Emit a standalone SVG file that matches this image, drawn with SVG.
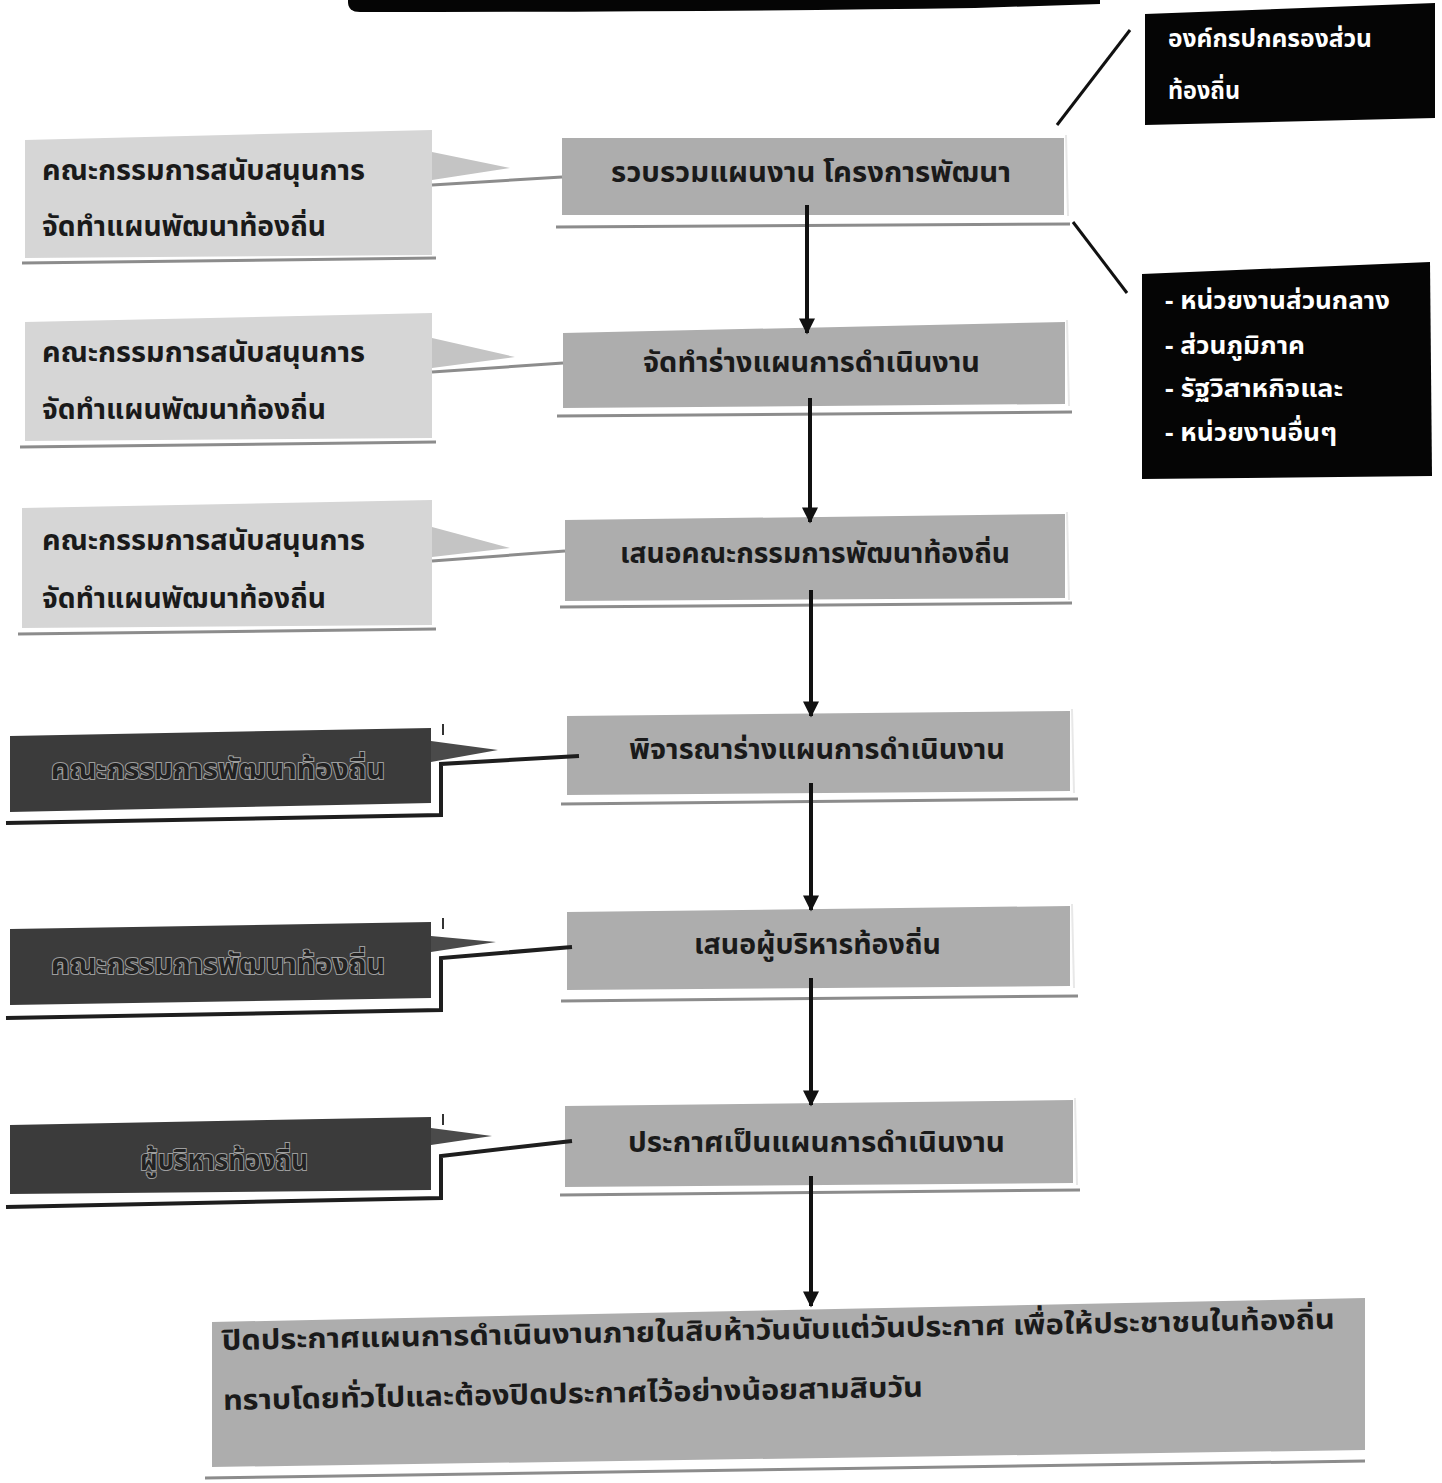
<svg xmlns="http://www.w3.org/2000/svg" width="1442" height="1483" viewBox="0 0 1442 1483">
<defs>
<style>
.t{font-family:"Noto Sans Thai","Noto Sans","DejaVu Sans","Liberation Sans",sans-serif;font-weight:bold;font-size:28px;fill:#1a1a1a}
.tw{font-family:"Noto Sans Thai","Noto Sans","DejaVu Sans","Liberation Sans",sans-serif;font-weight:bold;font-size:25px;fill:#ffffff}
.td{font-family:"Noto Sans Thai","Noto Sans","DejaVu Sans","Liberation Sans",sans-serif;font-weight:bold;font-size:28px;fill:#222222;stroke:#9e9e9e;stroke-width:2px;paint-order:stroke}
.gbox{fill:#adadad}
.lbox{fill:#d6d6d6}
.dbox{fill:#3b3b3b}
.blk{fill:#050505}
.sh{stroke:#8c8c8c;stroke-width:3;fill:none}
.shd{stroke:#1e1e1e;stroke-width:4;fill:none}
.ptr{fill:#c4c4c4}
.ptrd{fill:#4a4a4a}
.edge{stroke:#e8e8e8;stroke-width:2;fill:none}
.ln{stroke:#111;stroke-width:3;fill:none}
.ar{stroke:#111;stroke-width:4;fill:none;marker-end:url(#ah)}
</style>
<marker id="ah" viewBox="0 0 10 10" refX="9" refY="5" markerWidth="4.5" markerHeight="4" orient="auto" markerUnits="strokeWidth">
<path d="M0,0 L10,5 L0,10 Z" fill="#111"/>
</marker>
</defs>
<rect width="1442" height="1483" fill="#ffffff"/>

<!-- top partial bar -->
<g id="top-bar">
<path d="M348,0 L1100,0 L1100,4 L975,8 Q700,12 360,12 Q348,12 348,2 Z" class="blk"/>
</g>

<!-- right black boxes -->
<g id="org-local">
<polygon points="1145,14 1435,3 1435,118 1145,125" class="blk"/>
<text class="tw" x="1168" y="47" textLength="204" lengthAdjust="spacingAndGlyphs">องค์กรปกครองส่วน</text>
<text class="tw" x="1168" y="99" textLength="72" lengthAdjust="spacingAndGlyphs">ท้องถิ่น</text>
</g>
<g id="agencies">
<polygon points="1142,274 1430,262 1432,476 1142,479" class="blk"/>
<text class="tw" x="1165" y="309" textLength="225" lengthAdjust="spacingAndGlyphs">- หน่วยงานส่วนกลาง</text>
<text class="tw" x="1165" y="354" textLength="140" lengthAdjust="spacingAndGlyphs">- ส่วนภูมิภาค</text>
<text class="tw" x="1165" y="397" textLength="178" lengthAdjust="spacingAndGlyphs">- รัฐวิสาหกิจและ</text>
<text class="tw" x="1165" y="441" textLength="172" lengthAdjust="spacingAndGlyphs">- หน่วยงานอื่นๆ</text>
</g>

<!-- center process boxes -->
<g id="step1">
<rect x="562" y="138" width="502" height="77" class="gbox"/>
<line x1="1066" y1="135" x2="1068" y2="216" class="edge"/>
<line x1="556" y1="227" x2="1070" y2="224" class="sh"/>
<text class="t" x="611" y="182" textLength="400" lengthAdjust="spacingAndGlyphs">รวบรวมแผนงาน  โครงการพัฒนา</text>
</g>
<g id="step2">
<polygon points="563,333 1065,322 1065,404 563,408" class="gbox"/>
<line x1="1067" y1="320" x2="1069" y2="406" class="edge"/>
<line x1="557" y1="416" x2="1072" y2="412" class="sh"/>
<text class="t" x="643" y="372" textLength="337" lengthAdjust="spacingAndGlyphs">จัดทำร่างแผนการดำเนินงาน</text>
</g>
<g id="step3">
<polygon points="565,520 1065,514 1065,598 565,601" class="gbox"/>
<line x1="1067" y1="512" x2="1069" y2="600" class="edge"/>
<line x1="560" y1="607" x2="1072" y2="603" class="sh"/>
<text class="t" x="620" y="563" textLength="390" lengthAdjust="spacingAndGlyphs">เสนอคณะกรรมการพัฒนาท้องถิ่น</text>
</g>
<g id="step4">
<polygon points="567,716 1070,711 1070,791 567,795" class="gbox"/>
<line x1="1072" y1="709" x2="1074" y2="793" class="edge"/>
<line x1="561" y1="804" x2="1078" y2="799" class="sh"/>
<text class="t" x="629" y="759" textLength="376" lengthAdjust="spacingAndGlyphs">พิจารณาร่างแผนการดำเนินงาน</text>
</g>
<g id="step5">
<polygon points="567,912 1070,906 1070,986 567,990" class="gbox"/>
<line x1="1072" y1="904" x2="1074" y2="988" class="edge"/>
<line x1="561" y1="1001" x2="1078" y2="996" class="sh"/>
<text class="t" x="694" y="954" textLength="247" lengthAdjust="spacingAndGlyphs">เสนอผู้บริหารท้องถิ่น</text>
</g>
<g id="step6">
<polygon points="565,1106 1073,1100 1073,1183 565,1187" class="gbox"/>
<line x1="1075" y1="1098" x2="1077" y2="1185" class="edge"/>
<line x1="560" y1="1195" x2="1080" y2="1190" class="sh"/>
<text class="t" x="628" y="1152" textLength="377" lengthAdjust="spacingAndGlyphs">ประกาศเป็นแผนการดำเนินงาน</text>
</g>
<g id="step7">
<polygon points="212,1322 1365,1298 1365,1450 212,1467" class="gbox"/>
<line x1="205" y1="1478" x2="1365" y2="1461" class="sh"/>
<g transform="rotate(-1.1 222 1350)">
<text class="t" x="222" y="1350" textLength="1113" lengthAdjust="spacingAndGlyphs">ปิดประกาศแผนการดำเนินงานภายในสิบห้าวันนับแต่วันประกาศ เพื่อให้ประชาชนในท้องถิ่น</text>
<text class="t" x="222" y="1410" textLength="700" lengthAdjust="spacingAndGlyphs">ทราบโดยทั่วไปและต้องปิดประกาศไว้อย่างน้อยสามสิบวัน</text>
</g>
</g>

<!-- left light callouts -->
<g id="support1">
<polygon points="25,140 432,130 432,255 25,258" class="lbox"/>
<polygon points="432,152 510,168 432,180" class="ptr"/>
<line x1="432" y1="185" x2="562" y2="177" class="sh"/>
<line x1="22" y1="263" x2="436" y2="258" class="sh"/>
<text class="t" x="42" y="180" textLength="323" lengthAdjust="spacingAndGlyphs">คณะกรรมการสนับสนุนการ</text>
<text class="t" x="42" y="236" textLength="284" lengthAdjust="spacingAndGlyphs">จัดทำแผนพัฒนาท้องถิ่น</text>
</g>
<g id="support2">
<polygon points="25,322 432,313 432,438 25,441" class="lbox"/>
<polygon points="432,338 515,357 432,368" class="ptr"/>
<line x1="432" y1="372" x2="563" y2="363" class="sh"/>
<line x1="20" y1="447" x2="436" y2="442" class="sh"/>
<text class="t" x="42" y="362" textLength="323" lengthAdjust="spacingAndGlyphs">คณะกรรมการสนับสนุนการ</text>
<text class="t" x="42" y="419" textLength="284" lengthAdjust="spacingAndGlyphs">จัดทำแผนพัฒนาท้องถิ่น</text>
</g>
<g id="support3">
<polygon points="22,508 432,500 432,625 22,628" class="lbox"/>
<polygon points="432,527 510,548 432,557" class="ptr"/>
<line x1="432" y1="561" x2="565" y2="551" class="sh"/>
<line x1="18" y1="634" x2="436" y2="629" class="sh"/>
<text class="t" x="42" y="550" textLength="323" lengthAdjust="spacingAndGlyphs">คณะกรรมการสนับสนุนการ</text>
<text class="t" x="42" y="608" textLength="284" lengthAdjust="spacingAndGlyphs">จัดทำแผนพัฒนาท้องถิ่น</text>
</g>

<!-- left dark callouts -->
<g id="council1">
<polygon points="10,736 431,728 431,803 10,812" class="dbox"/>
<polygon points="431,741 498,750 431,762" class="ptrd"/>
<line x1="443" y1="724" x2="443" y2="735" stroke="#333" stroke-width="2"/>
<text class="td" x="51" y="779" textLength="334" lengthAdjust="spacingAndGlyphs">คณะกรรมการพัฒนาท้องถิ่น</text>
</g>
<g id="council2">
<polygon points="10,929 431,922 431,998 10,1005" class="dbox"/>
<polygon points="431,936 496,942 431,952" class="ptrd"/>
<line x1="443" y1="918" x2="443" y2="929" stroke="#333" stroke-width="2"/>
<text class="td" x="51" y="974" textLength="334" lengthAdjust="spacingAndGlyphs">คณะกรรมการพัฒนาท้องถิ่น</text>
</g>
<g id="executive">
<polygon points="10,1125 431,1117 431,1190 10,1194" class="dbox"/>
<polygon points="431,1128 492,1136 431,1145" class="ptrd"/>
<line x1="443" y1="1114" x2="443" y2="1125" stroke="#333" stroke-width="2"/>
<text class="td" x="140" y="1170" textLength="168" lengthAdjust="spacingAndGlyphs">ผู้บริหารท้องถิ่น</text>
</g>

<!-- connectors -->
<g id="connectors">
<line x1="1057" y1="125" x2="1130" y2="30" class="ln"/>
<line x1="1073" y1="222" x2="1127" y2="293" class="ln"/>
<line x1="807" y1="205" x2="807" y2="333" class="ar"/>
<line x1="810" y1="398" x2="810" y2="522" class="ar"/>
<line x1="811" y1="590" x2="811" y2="716" class="ar"/>
<line x1="811" y1="783" x2="811" y2="910" class="ar"/>
<line x1="811" y1="978" x2="811" y2="1105" class="ar"/>
<line x1="811" y1="1176" x2="811" y2="1306" class="ar"/>
<path d="M6,823 L441,815 L441,764 L579,756" class="shd"/>
<path d="M6,1018 L441,1010 L441,958 L572,947" class="shd"/>
<path d="M6,1207 L441,1198 L441,1156 L572,1141" class="shd"/>
</g>
</svg>
